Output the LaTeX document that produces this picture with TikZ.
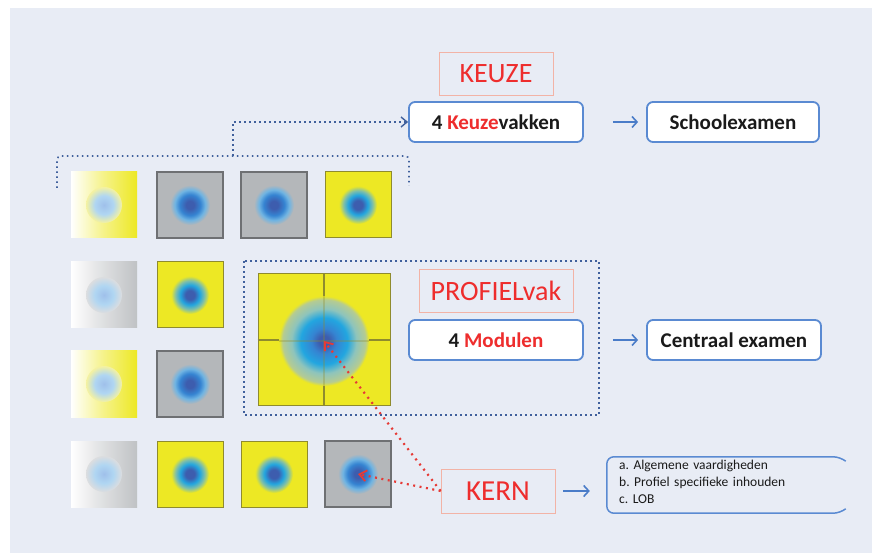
\documentclass[tikz,border=0pt]{standalone}
\usepackage{fontspec}
\setmainfont{Carlito}
\usetikzlibrary{arrows.meta,calc}
\definecolor{bg}{HTML}{E8ECF5}
\definecolor{yel}{HTML}{EDE824}
\definecolor{yelb}{HTML}{8F8B2E}
\definecolor{sgray}{HTML}{B4B7BA}
\definecolor{grayb}{HTML}{6E7073}
\definecolor{bdark}{HTML}{3D5DAE}
\definecolor{bblue}{HTML}{3584D2}
\definecolor{bcyan}{HTML}{22A6E0}
\definecolor{blight}{HTML}{70B4E2}
\definecolor{bgreen}{HTML}{7FBFA8}
\definecolor{bpale}{HTML}{9FC0EA}
\definecolor{bpale2}{HTML}{B0D6F2}
\definecolor{fadY}{HTML}{F5F2A0}
\definecolor{fadG}{HTML}{DCDDDF}
\definecolor{bigout}{HTML}{B5CB92}
\definecolor{bigmid}{HTML}{8EC4BC}
\definecolor{boxb}{HTML}{5A8AD2}
\definecolor{arrb}{HTML}{4A7CC8}
\definecolor{dotb}{HTML}{40609C}
\definecolor{kred}{HTML}{EE2D2D}
\definecolor{rdotc}{HTML}{E63A36}
\definecolor{salmon}{HTML}{F2B3A6}
\definecolor{txt}{HTML}{1A1A1A}
\pgfdeclareradialshading{blobG}{\pgfpoint{0bp}{0bp}}{color(0bp)=(bdark); color(5bp)=(bdark); color(13bp)=(bblue); color(19bp)=(blight); color(25bp)=(sgray); color(50bp)=(sgray)}
\pgfdeclareradialshading{blobY}{\pgfpoint{0bp}{0bp}}{color(0bp)=(bdark); color(6bp)=(bdark); color(13bp)=(bcyan); color(19bp)=(bgreen); color(25bp)=(yel); color(50bp)=(yel)}
\pgfdeclareradialshading{blobFY}{\pgfpoint{0bp}{0bp}}{color(0bp)=(bpale); color(13bp)=(bpale2); color(25bp)=(fadY); color(50bp)=(fadY)}
\pgfdeclareradialshading{blobFG}{\pgfpoint{0bp}{0bp}}{color(0bp)=(bpale); color(13bp)=(bpale2); color(25bp)=(fadG); color(50bp)=(fadG)}
\pgfdeclareradialshading{blobBig}{\pgfpoint{0bp}{0bp}}{color(0bp)=(bdark); color(3bp)=(bdark); color(7bp)=(bblue); color(13bp)=(bcyan); color(18bp)=(bigmid); color(23bp)=(bigout); color(25bp)=(yel); color(50bp)=(yel)}
\begin{document}
\begin{tikzpicture}[x=1pt,y=-1pt,
  sqY/.style={rectangle,draw=yelb,line width=1pt,fill=yel,minimum size=66pt,inner sep=0pt},
  sqG/.style={rectangle,draw=grayb,line width=1.2pt,fill=sgray,minimum size=66pt,inner sep=0pt},
  sqFY/.style={rectangle,left color=white,right color=yel,middle color=yel!55!white,draw=none,minimum size=66pt,inner sep=0pt},
  sqFG/.style={rectangle,left color=white,right color=sgray!85!white,middle color=sgray!45!white,draw=none,minimum size=66pt,inner sep=0pt},
  blG/.style={circle,shading=blobG,minimum size=40pt,inner sep=0pt},
  blY/.style={circle,shading=blobY,minimum size=38pt,inner sep=0pt},
  blFY/.style={circle,shading=blobFY,minimum size=36pt,inner sep=0pt},
  blFG/.style={circle,shading=blobFG,minimum size=36pt,inner sep=0pt},
  lbl/.style={rectangle,draw=salmon,line width=0.8pt,text=kred,inner sep=0pt},
  wbox/.style={rectangle,draw=boxb,line width=1.8pt,fill=white,rounded corners=6pt,
    minimum width=174pt,minimum height=40pt,inner sep=0pt,text=txt,
    font=\fontsize{21}{24}\selectfont\bfseries},
  barrow/.style={draw=arrb,line width=1.6pt,-{Straight Barb[length=5pt,width=11pt]}},
  bdot/.style={draw=dotb,line width=1.6pt,dash pattern=on 1.6pt off 3.4pt},
  rdot/.style={draw=rdotc,line width=2.2pt,dash pattern=on 2pt off 4.5pt,
    -{Straight Barb[length=7pt,width=11pt,line width=1.8pt]}},
  gridl/.style={draw=yelb,line width=1.4pt}
]
\useasboundingbox (0,0) rectangle (876,553);
\fill[white] (0,0) rectangle (876,553);
\fill[bg] (10,8) rectangle (872,553);

% row 1
\node[sqFY] (s11) at (104,205) {};
\node[blFY] (b11) at (s11) {};
\node[sqG] (s12) at (190,205) {};
\node[blG] (b12) at (s12) {};
\node[sqG] (s13) at (274,205) {};
\node[blG] (b13) at (s13) {};
\node[sqY] (s14) at (358,205) {};
\node[blY] (b14) at (s14) {};
% row 2
\node[sqFG] (s21) at (104,295) {};
\node[blFG] (b21) at (s21) {};
\node[sqY] (s22) at (190,295) {};
\node[blY] (b22) at (s22) {};
% row 3
\node[sqFY] (s31) at (104,384) {};
\node[blFY] (b31) at (s31) {};
\node[sqG] (s32) at (190,384) {};
\node[blG] (b32) at (s32) {};
% row 4
\node[sqFG] (s41) at (104,474) {};
\node[blFG] (b41) at (s41) {};
\node[sqY] (s42) at (190,474) {};
\node[blY] (b42) at (s42) {};
\node[sqY] (s43) at (274,474) {};
\node[blY] (b43) at (s43) {};
\node[sqG] (s44) at (358,474) {};
\node[blG] (b44) at (s44) {};

% big square
\node[rectangle,draw=yelb,line width=1pt,fill=yel,minimum size=132pt,inner sep=0pt] (big) at (324,340) {};
\draw[gridl] (big.north) -- (big.south);
\draw[gridl] (big.west) -- (big.east);
\node[circle,shading=blobBig,minimum size=90pt,inner sep=0pt] (bigblob) at (324,341) {};
\draw[gridl,opacity=0.3] (bigblob.north) -- (bigblob.south);
\draw[gridl,opacity=0.3] (bigblob.west) -- (bigblob.east);

% dotted frame
\draw[bdot] (244,261) rectangle (599,415);

% labels and boxes
\node[lbl,minimum width=114pt,minimum height=43pt,font=\fontsize{28}{32}\selectfont] (keuze) at (496,73.5) {KEUZE};
\node[wbox] (kv) at (496,122) {4 \textcolor{kred}{Keuze}vakken};
\node[wbox,minimum width=172pt] (se) at (733,122) {Schoolexamen};
\node[lbl,minimum width=154pt,minimum height=43pt,font=\fontsize{28}{32}\selectfont] (prof) at (496,290.5) {PROFIELvak};
\node[wbox] (mod) at (496,340) {4 \textcolor{kred}{Modulen}};
\node[wbox] (ce) at (734,340) {Centraal examen};
\node[lbl,minimum width=114pt,minimum height=44pt,font=\fontsize{29}{32}\selectfont] (kern) at (498,491) {KERN};

% list
\node[minimum width=237pt,minimum height=56pt,inner sep=0pt] (listbox) at (725.5,485) {};
\node[anchor=north west,text width=225pt,align=left,inner sep=0pt,text=txt,
  font=\fontsize{13.5}{17}\selectfont\frenchspacing] (listtxt) at (619,460) {a. Algemene vaardigheden\\b. Profiel specifieke inhouden\\c. LOB};
\draw[draw=boxb,line width=1.5pt,rounded corners=7pt]
  ($(listbox.north east)+(1,4)$) -- ($(listbox.north east)+(-4,0)$) -- (listbox.north west)
  -- (listbox.south west) -- ($(listbox.south east)+(-4,0)$) -- ($(listbox.south east)+(1,-4)$);

% arrows
\draw[barrow,shorten <=29pt,shorten >=8pt] (kv.east) -- (se.west);
\draw[barrow,shorten <=29pt,shorten >=8pt] (mod.east) -- (ce.west);
\draw[barrow,shorten <=8pt,shorten >=17pt] (kern.east) -- (kern.east -| listbox.west);

% bracket
\coordinate (brL) at (57,188);
\coordinate (brR) at (409,186);
\coordinate (brM) at (233,156);
\draw[bdot,rounded corners=4pt] (brL) -- (57,156) -- (409,156) -- (brR);
\draw[bdot,-{Straight Barb[length=6pt,width=10pt,line width=1.4pt]}] (brM) |- (kv.west);

% red dotted arrows
\draw[rdot] (kern.west) -- (bigblob.center);
\draw[rdot] (kern.west) -- (b44.center);
\end{tikzpicture}
\end{document}
